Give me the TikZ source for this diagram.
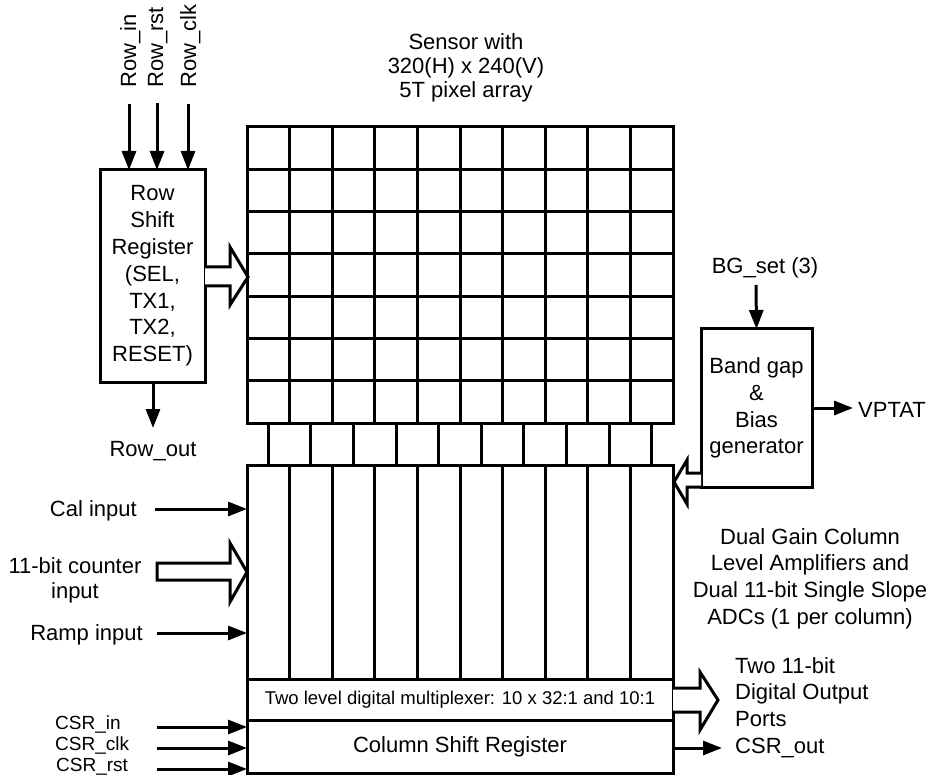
\documentclass[tikz,border=0pt]{standalone}
\usepackage{fontspec}
\setmainfont{Liberation Sans}
\usetikzlibrary{arrows.meta}
\begin{document}
\begin{tikzpicture}[x=1pt,y=-1pt,
  lw/.style={line width=3pt},
  blk/.style={draw,line width=3pt,rectangle,inner sep=0pt,outer sep=0pt},
  sig/.style={line width=3pt,-{Triangle[length=19pt,width=14pt]}},
  hollow/.style={draw,line width=3pt,fill=white,line join=miter},
  big/.style={font=\fontsize{22}{26.8}\selectfont},
  small/.style={font=\fontsize{19}{21}\selectfont},
  lbl/.style={big,inner sep=0pt,align=center}]
\useasboundingbox (0,0) rectangle (934,775);

% title
\node[lbl,font=\fontsize{22}{24}\selectfont,anchor=north] (title) at (466,33) {Sensor with\\320(H) x 240(V)\\5T pixel array};

% row shift register
\node[blk,minimum width=105pt,minimum height=212pt,big,align=center] (rowreg) at (152.5,276) {Row\\Shift\\Register\\(SEL,\\TX1,\\TX2,\\RESET)};
\node[big,inner sep=0pt,rotate=90,anchor=base west] (lrin) at (136,88) {Row\_in};
\node[big,inner sep=0pt,rotate=90,anchor=base west] (lrrst) at (163,88) {Row\_rst};
\node[big,inner sep=0pt,rotate=90,anchor=base west] (lrclk) at (196,88) {Row\_clk};
\coordinate (rin) at (129,104);
\coordinate (rrst) at (157,103);
\coordinate (rclk) at (188,104);
\draw[sig] (rin) -- (rin |- rowreg.north);
\draw[sig] (rrst) -- (rrst |- rowreg.north);
\draw[sig] (rclk) -- (rclk |- rowreg.north);
\node[big,inner sep=0pt,anchor=base] (lrout) at (153,456) {Row\_out};
\coordinate (rout) at (153,428);
\draw[sig] (rout |- rowreg.south) -- (rout);

% pixel array
\node[blk,minimum width=426pt,minimum height=296pt] (pix) at (460,275) {};
\foreach \i in {1,...,9} \draw[lw] (247+\i*42.6,127) -- (247+\i*42.6,423);
\foreach \j in {1,...,6} \draw[lw] (247,127+\j*42.2857) -- (673,127+\j*42.2857);
% strip
\foreach \i in {0,...,9} \draw[lw] (268.3+\i*42.6,423) -- (268.3+\i*42.6,465);

% ADC block
\node[blk,minimum width=426pt,minimum height=308pt] (adc) at (460,619) {};
\foreach \i in {1,...,9} \draw[lw] (247+\i*42.6,465) -- (247+\i*42.6,679);
\node[blk,minimum width=426pt,minimum height=41pt,font=\fontsize{18.5}{20}\selectfont] (mux) at (460,699.5) {Two level digital multiplexer: 10 x 32:1 and 10:1};
\node[blk,minimum width=426pt,minimum height=53pt,big] (csr) at (460,746.5) {Column Shift Register};

% row register to array
\draw[hollow] (rowreg.east |- 0,267) -- (230,267) -- (230,247) -- (248,277) -- (230,305) -- (230,286) -- (rowreg.east |- 0,286);

% band gap
\node[blk,minimum width=111pt,minimum height=158pt,big,align=center] (bg) at (756.5,408) {Band gap\\\&\\Bias\\generator};
\node[big,inner sep=0pt,anchor=base] (lbgs) at (765,274) {BG\_set (3)};
\coordinate (bgs) at (756,285);
\draw[sig] (bgs) -- (bg.north);
\node[big,inner sep=0pt,anchor=base west] (vptat) at (858,417) {VPTAT};
\coordinate (vp) at (853,408);
\draw[sig] (bg.east) -- (vp);
\draw[hollow] (bg.west |- 0,473) -- (687,473) -- (687,460) -- (674,482) -- (687,504) -- (687,487) -- (bg.west |- 0,487);

% right text
\node[lbl,anchor=north] (adctxt) at (810,528) {Dual Gain Column\\Level Amplifiers and\\Dual 11-bit Single Slope\\ADCs (1 per column)};

% left inputs
\node[big,inner sep=0pt,anchor=base east] (cal) at (137,516) {Cal input};
\coordinate (calc) at (155,509);
\draw[sig] (calc) -- (calc -| adc.west);
\node[lbl,font=\fontsize{22}{25}\selectfont,anchor=north] (cnt) at (75,557) {11-bit counter\\input};
\draw[hollow] (157,563) -- (230,563) -- (230,543) -- (adc.west |- 0,572) -- (230,602) -- (230,580) -- (157,580) -- cycle;
\node[big,inner sep=0pt,anchor=base east] (ramp) at (143,640) {Ramp input};
\coordinate (rampc) at (157,633);
\draw[sig] (rampc) -- (rampc -| adc.west);

% CSR inputs
\node[small,inner sep=0pt,anchor=base west] (csrin) at (55,729) {CSR\_in};
\node[small,inner sep=0pt,anchor=base west] (csrclk) at (55,750) {CSR\_clk};
\node[small,inner sep=0pt,anchor=base west] (csrrst) at (56,771) {CSR\_rst};
\coordinate (ci) at (157,727);
\coordinate (cc) at (157,748);
\coordinate (cr) at (157,769);
\draw[sig] (ci) -- (ci -| csr.west);
\draw[sig] (cc) -- (cc -| csr.west);
\draw[sig] (cr) -- (cr -| csr.west);

% outputs
\draw[hollow] (mux.east |- 0,688) -- (700,688) -- (700,672) -- (718,700) -- (700,730) -- (700,712) -- (mux.east |- 0,712);
\node[big,inner sep=0pt,align=left,anchor=north west,font=\fontsize{22}{26.5}\selectfont] (outtxt) at (735,657) {Two 11-bit\\Digital Output\\Ports};
\node[big,inner sep=0pt,anchor=base west] (csrout) at (735,753) {CSR\_out};
\coordinate (co) at (722,748);
\draw[sig] (co -| csr.east) -- (co);
\end{tikzpicture}
\end{document}
